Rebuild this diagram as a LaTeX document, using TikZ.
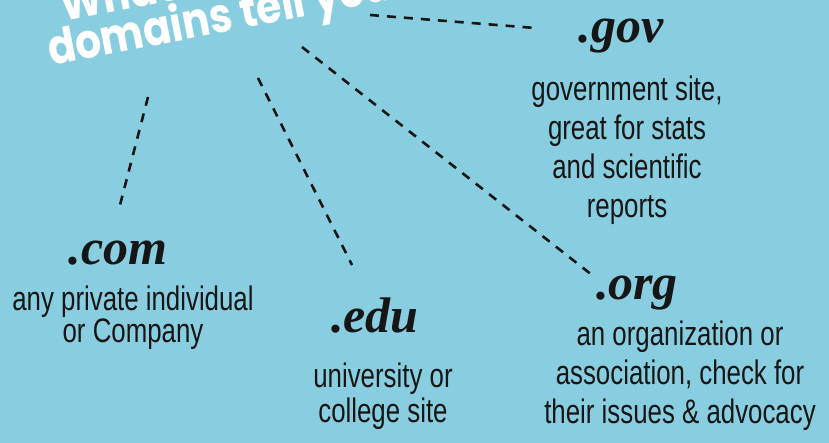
\documentclass[tikz,border=0pt]{standalone}
\usepackage{fontspec}
\setmainfont{Liberation Sans}
\newfontfamily\titlefont{Poppins}[FakeStretch=0.85]
\newfontfamily\handfont{Liberation Sans}[FakeStretch=0.76]
\newfontfamily\domfont{Liberation Serif}
\definecolor{sky}{RGB}{137,206,224}
\definecolor{ink}{RGB}{22,22,22}

\begin{document}
\begin{tikzpicture}[x=1pt,y=-1pt]
  \tikzstyle{tld} = [inner sep=0pt,anchor=base,text=ink,font=\domfont\bfseries\itshape\fontsize{50}{50}\selectfont]
  \tikzstyle{tldnote} = [inner sep=0pt,anchor=base,align=center,text=ink,font=\handfont\fontsize{34}{39}\selectfont]
  \tikzstyle{link} = [draw=ink,line width=2.6pt,dash pattern=on 9pt off 8pt]
  \tikzstyle{headline} = [inner sep=0pt,anchor=base west,rotate=11,text=white,font=\titlefont\bfseries\fontsize{48}{48}\selectfont]
  \useasboundingbox (0,0) rectangle (829,443);
  \clip (0,0) rectangle (829,443);
  \fill[sky] (0,0) rectangle (829,443);
  % heading
  \node[headline] (title1) at (63,22) {What do};
  \node[headline] (title2) at (51,66) {domains tell you?};
  % the four domains
  \node[tld] (gov) at (621,43) {.gov};
  \node[tldnote] (gov-note) at (627,218) {government site,\\great for stats\\and scientific\\reports};
  \node[tld] (com) at (118,265) {.com};
  \node[tldnote] (com-note) at (133,342) {any private individual\\[-7pt]or Company};
  \node[tld] (edu) at (375,332) {.edu};
  \node[tldnote] (edu-note) at (383,422) {university or\\[-4pt]college site};
  \node[tld] (org) at (637,300) {.org};
  \node[tldnote] (org-note) at (680,423) {an organization or\\association, check for\\their issues \& advocacy};
  % dashed links
  \coordinate (gov-from) at (370,15);  \coordinate (gov-to) at (535,28);
  \coordinate (org-from) at (302,47);  \coordinate (org-to) at (592,275);
  \coordinate (edu-from) at (258,78);  \coordinate (edu-to) at (352,265);
  \coordinate (com-from) at (148,97);  \coordinate (com-to) at (120,205);
  \foreach \n in {gov,org,edu,com}
    \draw[link] (\n-from) -- (\n-to);
\end{tikzpicture}
\end{document}
